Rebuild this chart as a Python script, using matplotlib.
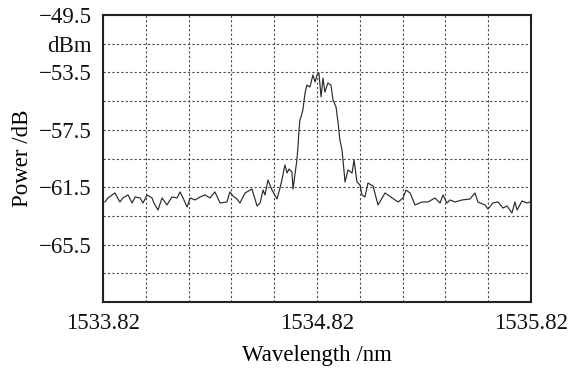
import matplotlib
matplotlib.use("Agg")
import matplotlib.pyplot as plt
import numpy as np

wavelength = [
    1533.829, 1533.843, 1533.876, 1533.899, 1533.913, 1533.937, 1533.956, 1533.970,
    1533.993, 1534.007, 1534.026, 1534.049, 1534.058, 1534.077, 1534.096, 1534.119,
    1534.142, 1534.166, 1534.180, 1534.194, 1534.213, 1534.227, 1534.250, 1534.273,
    1534.297, 1534.320, 1534.343, 1534.367, 1534.399, 1534.413, 1534.427, 1534.446,
    1534.460, 1534.484, 1534.516, 1534.540, 1534.554, 1534.568, 1534.577, 1534.591,
    1534.610, 1534.633, 1534.647, 1534.656, 1534.670, 1534.680, 1534.689, 1534.703,
    1534.708, 1534.726, 1534.731, 1534.736, 1534.740, 1534.745, 1534.754, 1534.764,
    1534.773, 1534.787, 1534.801, 1534.811, 1534.820, 1534.829, 1534.839, 1534.848,
    1534.857, 1534.871, 1534.885, 1534.895, 1534.909, 1534.918, 1534.927, 1534.937,
    1534.951, 1534.965, 1534.984, 1534.993, 1535.007, 1535.021, 1535.030, 1535.044,
    1535.058, 1535.082, 1535.105, 1535.138, 1535.171, 1535.199, 1535.222, 1535.236,
    1535.255, 1535.278, 1535.311, 1535.339, 1535.371, 1535.395, 1535.409, 1535.427,
    1535.442, 1535.465, 1535.498, 1535.535, 1535.558, 1535.572, 1535.605, 1535.619,
    1535.642, 1535.666, 1535.689, 1535.708, 1535.731, 1535.745, 1535.755, 1535.778,
    1535.801, 1535.815,
]
power = [
    -62.53, -62.25, -61.90, -62.53, -62.25, -62.04, -62.60, -62.18,
    -62.25, -62.60, -62.04, -62.25, -62.60, -63.09, -62.25, -62.74,
    -62.18, -62.25, -61.83, -62.25, -62.88, -62.25, -62.39, -62.18,
    -62.04, -62.25, -61.83, -62.60, -62.53, -61.83, -62.11, -62.32,
    -62.60, -61.90, -61.63, -62.81, -62.60, -61.70, -62.04, -61.00,
    -61.70, -62.32, -61.56, -61.00, -59.95, -60.51, -60.23, -60.44,
    -61.63, -59.60, -58.70, -57.51, -56.82, -56.61, -56.12, -54.94,
    -54.38, -54.52, -53.68, -54.17, -53.68, -53.54, -55.21, -53.89,
    -54.87, -54.24, -54.38, -55.42, -55.91, -56.96, -58.21, -58.91,
    -61.14, -60.30, -60.51, -59.60, -61.14, -61.35, -62.04, -62.18,
    -61.21, -61.42, -62.74, -61.90, -62.25, -62.53, -62.25, -61.70,
    -61.90, -62.74, -62.53, -62.53, -62.25, -62.60, -62.04, -62.60,
    -62.39, -62.53, -62.39, -62.32, -61.90, -62.53, -62.74, -63.02,
    -62.60, -62.53, -62.95, -62.81, -63.30, -62.53, -63.09, -62.46,
    -62.60, -62.53,
]

x_ticks = [1533.82, 1534.82, 1535.82]
x_tick_labels = ["1533.82", "1534.82", "1535.82"]
y_ticks = [-49.5, -51.5, -53.5, -57.5, -61.5, -65.5]
y_tick_labels = ["\u221249.5", "dBm", "\u221253.5", "\u221257.5", "\u221261.5", "\u221265.5"]

plt.rcParams['font.family'] = ['Liberation Serif', 'DejaVu Serif']

fig = plt.figure(figsize=(5.70, 3.72), dpi=100)
ax = fig.add_axes([103/570, 1-302/372, 428/570, 287/372])

ax.plot(wavelength, power, color='#2a2a2a', lw=0.85)

ax.set_xlim(1533.82, 1535.82)
ax.set_ylim(-69.5, -49.5)

# grid lines
for gx in np.arange(1533.82, 1535.83, 0.2):
    ax.axvline(gx, color='#4a4a4a', lw=0.8, ls=(0, (2, 2)), zorder=0)
for gy in np.arange(-69.5, -49.4, 2.0):
    ax.axhline(gy, color='#4a4a4a', lw=0.8, ls=(0, (2, 2)), zorder=0)

ax.set_xticks(x_ticks)
ax.set_xticklabels(x_tick_labels)
ax.set_yticks(y_ticks)
ax.set_yticklabels(y_tick_labels)
ax.tick_params(axis='both', length=0, labelsize=16.5, colors='#111111')
ax.tick_params(axis='x', pad=8)
ax.tick_params(axis='y', pad=8)

for s in ax.spines.values():
    s.set_linewidth(1.5)
    s.set_color('#222222')

ax.set_xlabel("Wavelength /nm", fontsize=16.5, labelpad=8)
ax.set_ylabel("Power /dB", fontsize=16.5, labelpad=4)

fig.savefig("out.png", dpi=100)
